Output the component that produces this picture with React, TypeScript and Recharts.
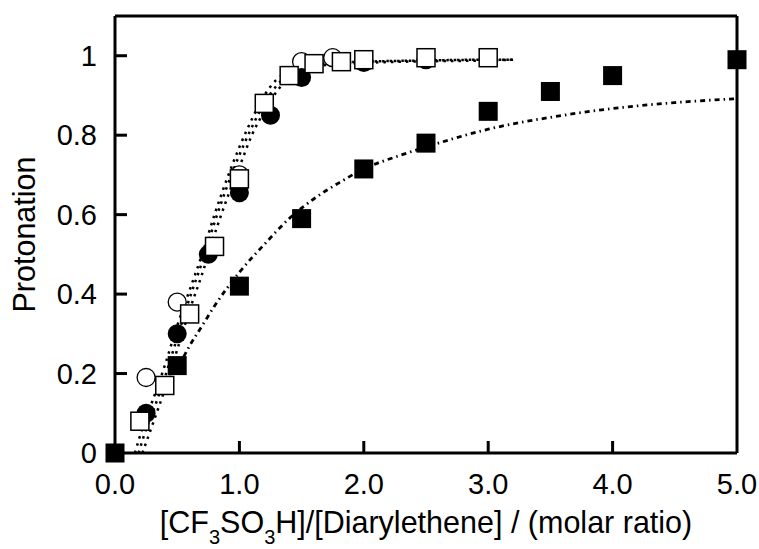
import React from "react";
import { ComposedChart, Scatter, Line, XAxis, YAxis, ReferenceLine } from "recharts";

const xTicks = [0, 1, 2, 3, 4, 5];
const xTickLabels = ["0.0", "1.0", "2.0", "3.0", "4.0", "5.0"];
const yTicks = [0, 0.2, 0.4, 0.6, 0.8, 1];
const yTickLabels = ["0", "0.2", "0.4", "0.6", "0.8", "1"];

// measured points
const filledSquareX = [0, 0.5, 1.0, 1.5, 2.0, 2.5, 3.0, 3.5, 4.0, 5.0];
const filledSquareY = [0, 0.22, 0.42, 0.59, 0.715, 0.78, 0.86, 0.91, 0.95, 0.99];

const filledCircleX = [0.25, 0.5, 0.75, 1.0, 1.25, 1.5, 2.0, 2.5];
const filledCircleY = [0.1, 0.3, 0.5, 0.655, 0.85, 0.945, 0.983, 0.99];

const openCircleX = [0.25, 0.5, 1.0, 1.5, 1.75];
const openCircleY = [0.19, 0.38, 0.7, 0.985, 0.995];

const openSquareX = [0.2, 0.4, 0.6, 0.8, 1.0, 1.2, 1.4, 1.6, 1.82, 2.0, 2.5, 3.0];
const openSquareY = [0.08, 0.17, 0.35, 0.52, 0.69, 0.88, 0.95, 0.98, 0.985, 0.99, 0.995, 0.995];

// fitted curves
const fitOpenCircleX = [0.16, 0.25, 0.3, 0.4, 0.5, 0.6, 0.7, 0.8, 0.9, 1.0, 1.1, 1.2, 1.3, 1.4, 1.5, 1.75, 2.0, 2.5, 3.0, 3.2];
const fitOpenCircleY = [0, 0.09, 0.13, 0.22, 0.32, 0.41, 0.5, 0.6, 0.69, 0.77, 0.84, 0.9, 0.94, 0.96, 0.973, 0.982, 0.985, 0.988, 0.99, 0.99];

const fitOpenSquareX = [0.19, 0.25, 0.3, 0.4, 0.5, 0.6, 0.7, 0.8, 0.9, 1.0, 1.1, 1.2, 1.3, 1.4, 1.5, 1.75, 2.0, 2.5, 3.0, 3.2];
const fitOpenSquareY = [0, 0.06, 0.1, 0.19, 0.29, 0.39, 0.48, 0.58, 0.67, 0.75, 0.82, 0.88, 0.925, 0.955, 0.97, 0.98, 0.985, 0.988, 0.99, 0.99];

const fitFilledCircleX = [0.22, 0.3, 0.4, 0.5, 0.6, 0.7, 0.8, 0.9, 1.0, 1.1, 1.2, 1.3, 1.4, 1.5, 1.75, 2.0, 2.5, 3.0, 3.2];
const fitFilledCircleY = [0, 0.07, 0.16, 0.26, 0.36, 0.45, 0.55, 0.64, 0.72, 0.8, 0.86, 0.91, 0.945, 0.965, 0.978, 0.982, 0.986, 0.988, 0.99];

const fitFilledSquareX = [0.5, 0.6, 0.7, 0.8, 1.0, 1.2, 1.4, 1.6, 1.8, 2.0, 2.3, 2.6, 3.0, 3.5, 4.0, 4.5, 5.0];
const fitFilledSquareY = [0.21, 0.27, 0.32, 0.37, 0.455, 0.525, 0.59, 0.64, 0.68, 0.715, 0.75, 0.78, 0.815, 0.845, 0.867, 0.882, 0.892];

const toPoints = (xs: number[], ys: number[]) => xs.map((x, i) => ({ x, y: ys[i] }));

const FONT = "'Liberation Sans', Arial, sans-serif";
const FS = 29;
const LABEL_FS = 30.5;
const GAP = 6;

function XTick({ x, y, payload }: any) {
  const axisY = y - GAP;
  const i = xTicks.indexOf(payload.value);
  const inner = payload.value > 0 && payload.value < 5;
  return (
    <g>
      {inner && <line x1={x} x2={x} y1={axisY} y2={axisY - 12} stroke="#000" strokeWidth={3} />}
      <text x={x} y={axisY + 41} textAnchor="middle" fontFamily={FONT} fontSize={FS} fill="#000">
        {xTickLabels[i]}
      </text>
    </g>
  );
}

function YTick({ x, y, payload }: any) {
  const axisX = x + GAP;
  const i = yTicks.indexOf(payload.value);
  return (
    <g>
      {payload.value > 0 && <line x1={axisX} x2={axisX + 12} y1={y} y2={y} stroke="#000" strokeWidth={3} />}
      <text x={axisX - 18} y={y} dy="0.35em" textAnchor="end" fontFamily={FONT} fontSize={FS} fill="#000">
        {yTickLabels[i]}
      </text>
    </g>
  );
}

const xLabel = ({ viewBox }: any) => (
  <text x={viewBox.x + viewBox.width / 2} y={viewBox.y + 80} textAnchor="middle" fontFamily={FONT} fontSize={LABEL_FS} fill="#000">
    [CF
    <tspan fontSize={20} dy={11}>3</tspan>
    <tspan dy={-11}>SO</tspan>
    <tspan fontSize={20} dy={11}>3</tspan>
    <tspan dy={-11}>H]/[Diarylethene] / (molar ratio)</tspan>
  </text>
);

const yLabel = ({ viewBox }: any) => {
  const cx = viewBox.x + 35;
  const cy = viewBox.y + viewBox.height / 2;
  return (
    <text x={cx} y={cy} transform={`rotate(-90, ${cx}, ${cy})`} textAnchor="middle" fontFamily={FONT} fontSize={LABEL_FS} fill="#000">
      Protonation
    </text>
  );
};

const FilledSquare = (p: any) => <rect x={p.cx - 9.5} y={p.cy - 9.5} width={19} height={19} fill="#000" />;
const OpenSquare = (p: any) => (
  <rect x={p.cx - 9} y={p.cy - 9} width={18} height={18} fill="#fff" stroke="#000" strokeWidth={1.5} />
);
const FilledCircle = (p: any) => <circle cx={p.cx} cy={p.cy} r={9.5} fill="#000" />;
const OpenCircle = (p: any) => <circle cx={p.cx} cy={p.cy} r={9} fill="#fff" stroke="#000" strokeWidth={1.3} />;

const fastDash = "2.5 5";

export default function App() {
  return (
    <div style={{ position: "absolute", left: 0, top: 0, width: 759, height: 549, background: "#fff" }}>
      <ComposedChart width={759} height={549} margin={{ top: 16, right: 22, left: 0, bottom: 0 }}>
        <XAxis
          type="number"
          dataKey="x"
          domain={[0, 5]}
          ticks={xTicks}
          tickSize={0}
          tickMargin={GAP}
          tick={<XTick />}
          axisLine={{ stroke: "#000", strokeWidth: 3 }}
          height={96}
          label={xLabel}
        />
        <YAxis
          type="number"
          dataKey="y"
          domain={[0, 1.1]}
          ticks={yTicks}
          tickSize={0}
          tickMargin={GAP}
          tick={<YTick />}
          axisLine={{ stroke: "#000", strokeWidth: 3 }}
          width={115}
          label={yLabel}
        />
        <ReferenceLine y={1.1} stroke="#000" strokeWidth={3} />
        <ReferenceLine x={5} stroke="#000" strokeWidth={3} />

        <Scatter data={toPoints(openCircleX, openCircleY)} shape={OpenCircle} isAnimationActive={false} />
        <Scatter data={toPoints(filledCircleX, filledCircleY)} shape={FilledCircle} isAnimationActive={false} />
        <Scatter data={toPoints(openSquareX, openSquareY)} shape={OpenSquare} isAnimationActive={false} />

        <Line data={toPoints(fitOpenCircleX, fitOpenCircleY)} dataKey="y" type="monotone" stroke="#000" strokeWidth={2.5} strokeDasharray={fastDash} dot={false} activeDot={false} isAnimationActive={false} />
        <Line data={toPoints(fitOpenSquareX, fitOpenSquareY)} dataKey="y" type="monotone" stroke="#000" strokeWidth={2.5} strokeDasharray={fastDash} dot={false} activeDot={false} isAnimationActive={false} />
        <Line data={toPoints(fitFilledCircleX, fitFilledCircleY)} dataKey="y" type="monotone" stroke="#000" strokeWidth={2.5} strokeDasharray={fastDash} dot={false} activeDot={false} isAnimationActive={false} />
        <Line data={toPoints(fitFilledSquareX, fitFilledSquareY)} dataKey="y" type="monotone" stroke="#000" strokeWidth={2.8} strokeDasharray="5 4 1.5 4" dot={false} activeDot={false} isAnimationActive={false} />

        <Scatter data={toPoints(filledSquareX, filledSquareY)} shape={FilledSquare} isAnimationActive={false} />
      </ComposedChart>
    </div>
  );
}
